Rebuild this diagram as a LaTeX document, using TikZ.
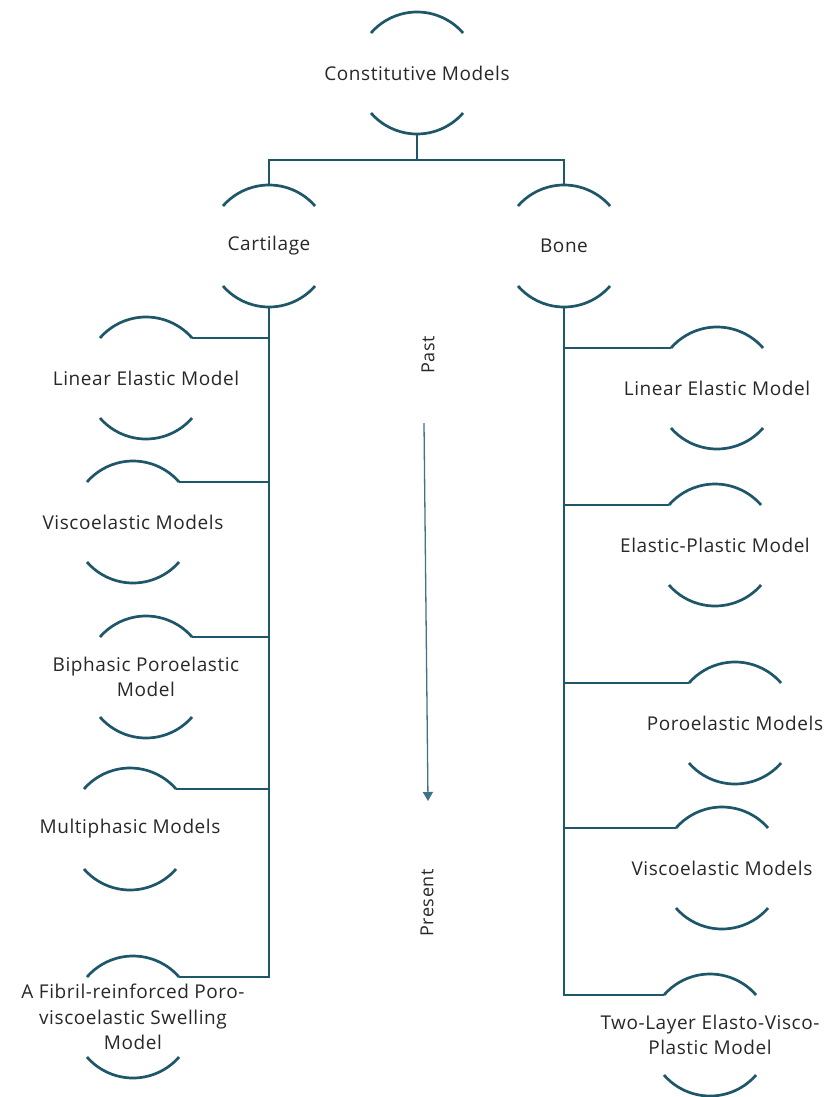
\documentclass[tikz,border=0pt]{standalone}
\usepackage{fontspec}
\setmainfont{Open Sans}[LetterSpace=3]
\usetikzlibrary{arrows.meta,calc}
\definecolor{tealline}{RGB}{30,86,106}
\definecolor{arrowc}{RGB}{65,115,135}
\definecolor{txt}{RGB}{40,40,40}
\tikzset{
  lbl/.style={text=txt, font=\fontsize{19}{25.5}\selectfont, align=center, inner sep=1pt},
  timelbl/.style={text=txt, font=\fontsize{18}{22}\selectfont, inner sep=1pt, rotate=90},
  lensline/.style={draw=tealline, line width=2.7pt},
  conn/.style={draw=tealline, line width=2.7pt},
  timearrow/.style={draw=arrowc, line width=1.3pt, -{Triangle[width=10pt,length=9pt]}},
}
\newcommand{\lens}[1]{%
  \draw[lensline] ([shift={(41:61pt)}]#1.center) arc[start angle=41,end angle=139,radius=61pt];
  \draw[lensline] ([shift={(-41:61pt)}]#1.center) arc[start angle=-41,end angle=-139,radius=61pt];
}
\begin{document}
\begin{tikzpicture}[x=1pt,y=-1pt]
\useasboundingbox[fill=white] (0,0) rectangle (828,1097);
% nodes
\node[lbl] (const) at (417,73) {Constitutive Models};
\node[lbl] (cart) at (269,246) {Cartilage};
\node[lbl] (bone) at (564,246) {Bone};
\node[lbl] (cl1) at (146,378) {Linear Elastic Model};
\node[lbl] (cl2) at (133,522) {Viscoelastic Models};
\node[lbl] (cl3) at (146,677) {Biphasic Poroelastic\\Model};
\node[lbl] (cl4) at (130,829) {Multiphasic Models};
\node[lbl] (cl5) at (133,1017) {A Fibril-reinforced Poro-\\viscoelastic Swelling\\Model};
\node[lbl] (br1) at (717,388) {Linear Elastic Model};
\node[lbl] (br2) at (715,545) {Elastic-Plastic Model};
\node[lbl] (br3) at (735,723) {Poroelastic Models};
\node[lbl] (br4) at (722,868) {Viscoelastic Models};
\node[lbl] (br5) at (710,1035) {Two-Layer Elasto-Visco-\\Plastic Model};
\node[timelbl] (past) at (428,355) {Past};
\node[timelbl] (present) at (427,903) {Present};
% arcs
\foreach \n in {const,cart,bone,cl1,cl2,cl3,cl4,cl5,br1,br2,br3,br4,br5} {\lens{\n}}
% anchor coordinates
\coordinate (const-b) at ([yshift=-61pt]const.center);
\coordinate (cart-t) at ([yshift=61pt]cart.center);
\coordinate (cart-b) at ([yshift=-61pt]cart.center);
\coordinate (bone-t) at ([yshift=61pt]bone.center);
\coordinate (bone-b) at ([yshift=-61pt]bone.center);
\foreach \n in {cl1,cl2,cl3,cl4,cl5} {\coordinate (\n-t) at ([shift={(41:61pt)}]\n.center);}
\foreach \n in {br1,br2,br3,br4,br5} {\coordinate (\n-t) at ([shift={(139:61pt)}]\n.center);}
\coordinate (bus) at (417,160);
% connectors
\draw[conn] (const-b) -- (bus);
\draw[conn] (cart-t) |- (bus) -| (bone-t);
\draw[conn] (cart-b) |- (cl5-t);
\foreach \n in {cl1,cl2,cl3,cl4} {\draw[conn] (\n-t) -- (\n-t -| cart-b);}
\draw[conn] (bone-b) |- (br5-t);
\foreach \n in {br1,br2,br3,br4} {\draw[conn] (\n-t) -- (\n-t -| bone-b);}
% time arrow
\coordinate (arr-s) at (424,423);
\coordinate (arr-e) at (428,801);
\draw[timearrow] (arr-s) -- (arr-e);
\end{tikzpicture}
\end{document}
